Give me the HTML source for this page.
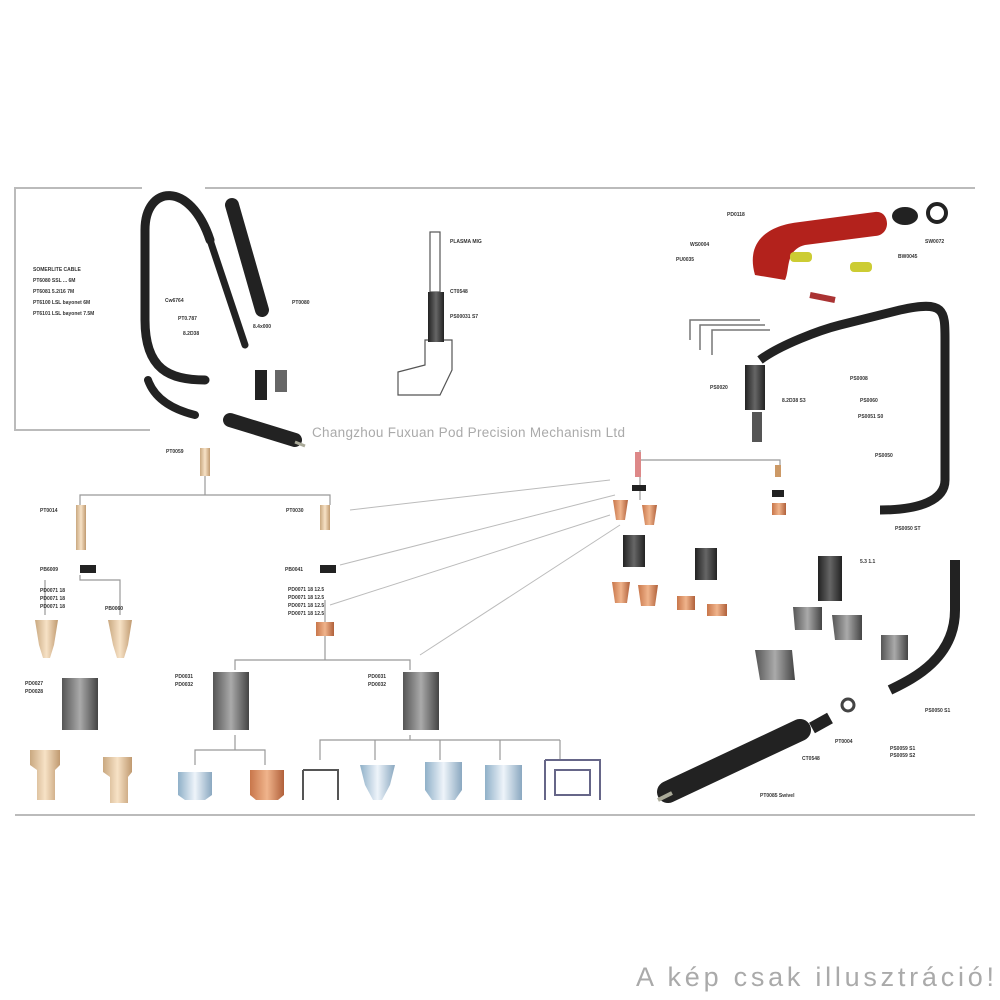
<!DOCTYPE html>
<html><head><meta charset="utf-8"><style>
body{margin:0;background:#fff;width:1000px;height:1000px;overflow:hidden;font-family:"Liberation Sans",sans-serif}
svg{position:absolute;left:0;top:0}
.t{font-size:5px;fill:#333;font-weight:bold}
</style></head><body>
<svg width="1000" height="1000" viewBox="0 0 1000 1000">
<defs>
<linearGradient id="cu" x1="0" x2="1"><stop offset="0" stop-color="#c8764a"/><stop offset=".5" stop-color="#f0b48c"/><stop offset="1" stop-color="#b0603a"/></linearGradient>
<linearGradient id="bk" x1="0" x2="1"><stop offset="0" stop-color="#222"/><stop offset=".5" stop-color="#666"/><stop offset="1" stop-color="#222"/></linearGradient>
<linearGradient id="gr" x1="0" x2="1"><stop offset="0" stop-color="#555"/><stop offset=".5" stop-color="#aaa"/><stop offset="1" stop-color="#444"/></linearGradient>
<linearGradient id="cr" x1="0" x2="1"><stop offset="0" stop-color="#c9a880"/><stop offset=".5" stop-color="#f7e2c6"/><stop offset="1" stop-color="#c09a70"/></linearGradient>
<linearGradient id="bl" x1="0" x2="1"><stop offset="0" stop-color="#8fb0c8"/><stop offset=".5" stop-color="#eef4fa"/><stop offset="1" stop-color="#8aa8c0"/></linearGradient>
</defs>
<g stroke="#bbb" stroke-width="2" fill="none">
<path d="M142 188 H15 V430 H150"/>
<path d="M205 188 H975"/>
<path d="M15 815 H975"/>
</g>
<g stroke="#999" stroke-width="1.2" fill="none">
<path d="M205 470 V495 M80 505 V495 H330 V505"/>
<path d="M80 575 V580 H120 V615 M45 580 V615"/>
<path d="M325 600 V660 H235 V670 M325 660 H410 V670"/>
<path d="M235 735 V750 H195 V765 M235 750 H265 V765"/>
<path d="M410 735 V740 H320 V760 M375 740 V760 M440 740 V760 M500 740 V760 M560 740 V760 M410 740 H560"/>
<path d="M640 450 V460 H780 V470 M640 460 V500"/>
</g>
<g stroke="#bbb" stroke-width="1" fill="none">
<path d="M350 510 L610 480"/><path d="M340 565 L615 495"/><path d="M330 605 L610 515"/>
<path d="M420 655 L620 525"/>
</g>
<g fill="none" stroke="#222" stroke-linecap="round">
<path d="M205 380 C170 380 145 370 145 320 V230 C145 185 190 180 210 240" stroke-width="9"/>
<path d="M148 380 C155 400 175 410 195 415" stroke-width="8"/>
<path d="M210 240 L245 345" stroke-width="7"/>
<path d="M232 205 L262 310" stroke-width="14"/>
</g>
<rect x="255" y="370" width="12" height="30" fill="#222"/>
<rect x="275" y="370" width="12" height="22" fill="#666"/>
<path d="M230 420 L295 440" stroke="#222" stroke-width="14" stroke-linecap="round"/>
<path d="M295 442 L305 446" stroke="#aa9" stroke-width="3"/>
<rect x="200" y="448" width="10" height="28" fill="url(#cr)"/>
<text x="33" y="271" class="t">SOMERLITE CABLE</text>
<text x="33" y="282" class="t">PT6080     SSL ... 6M</text>
<text x="33" y="293" class="t">PT6081     5.2/16  7M</text>
<text x="33" y="304" class="t">PT6100  LSL bayonet  6M</text>
<text x="33" y="315" class="t">PT6101  LSL bayonet  7.5M</text>
<text x="165" y="302" class="t">Cw6764</text><text x="178" y="320" class="t">PT0.787</text><text x="183" y="335" class="t">8.2D38</text>
<text x="292" y="304" class="t">PT0080</text><text x="253" y="328" class="t">8.4x000</text>
<text x="166" y="453" class="t">PT0059</text>
<g fill="none" stroke="#555" stroke-width="1.2">
<rect x="430" y="232" width="10" height="60"/>
<path d="M398 395 V372 L425 365 V340 H452 V370 L440 395 Z"/>
</g>
<rect x="428" y="292" width="16" height="50" fill="url(#bk)"/>
<text x="450" y="243" class="t">PLASMA MIG</text><text x="450" y="293" class="t">CT0548</text><text x="450" y="318" class="t">PS00031 S7</text>
<text x="312" y="437" font-size="13.5" fill="#aaa" textLength="313">Changzhou Fuxuan Pod Precision Mechanism Ltd</text>
<rect x="76" y="505" width="10" height="45" fill="url(#cr)"/>
<rect x="80" y="565" width="16" height="8" fill="#222"/>
<text x="40" y="512" class="t">PT0014</text><text x="40" y="571" class="t">PB6009</text>
<text x="40" y="592" class="t">PD0071 18</text><text x="40" y="600" class="t">PD0071 18</text><text x="40" y="608" class="t">PD0071 18</text>
<text x="105" y="610" class="t">PB0060</text>
<path d="M35 620 H58 L54 645 L50 658 H43 L39 645 Z" fill="url(#cr)"/>
<path d="M108 620 H132 L128 645 L124 658 H117 L113 645 Z" fill="url(#cr)"/>
<rect x="62" y="678" width="36" height="52" fill="url(#gr)"/>
<text x="25" y="685" class="t">PD0027</text><text x="25" y="693" class="t">PD0028</text>
<path d="M30 750 H60 V765 L55 770 V800 H37 V770 L30 765 Z" fill="url(#cr)"/>
<path d="M103 757 H132 V772 L128 777 V803 H110 V777 L103 772 Z" fill="url(#cr)"/>
<rect x="320" y="505" width="10" height="25" fill="url(#cr)"/>
<rect x="320" y="565" width="16" height="8" fill="#222"/>
<text x="286" y="512" class="t">PT0030</text><text x="285" y="571" class="t">PB0041</text>
<text x="288" y="591" class="t">PD0071 18  12.5</text><text x="288" y="599" class="t">PD0071 18  12.5</text><text x="288" y="607" class="t">PD0071 18  12.5</text><text x="288" y="615" class="t">PD0071 18  12.5</text>
<rect x="316" y="622" width="18" height="14" fill="url(#cu)"/>
<rect x="213" y="672" width="36" height="58" fill="url(#gr)"/>
<rect x="403" y="672" width="36" height="58" fill="url(#gr)"/>
<text x="175" y="678" class="t">PD0031</text><text x="175" y="686" class="t">PD0032</text>
<text x="368" y="678" class="t">PD0031</text><text x="368" y="686" class="t">PD0032</text>
<path d="M178 772 H212 V795 L205 800 H185 L178 795 Z" fill="url(#bl)"/>
<path d="M250 770 H284 V795 L278 800 H256 L250 795 Z" fill="url(#cu)"/>
<path d="M303 770 H338 V800 M303 770 V800" fill="none" stroke="#555" stroke-width="2"/>
<path d="M360 765 H395 L390 785 L382 800 H373 L365 785 Z" fill="url(#bl)"/>
<path d="M425 762 H462 V790 L455 800 H432 L425 790 Z" fill="url(#bl)"/>
<path d="M485 765 H522 V800 H485 Z" fill="url(#bl)"/>
<path d="M545 760 H600 V800 M545 760 V800 M555 770 H590 V795 H555 Z" fill="none" stroke="#668" stroke-width="2"/>
<path d="M755 275 C745 240 770 225 800 222 L875 212 C890 210 892 235 875 236 L805 245 C785 250 790 270 785 280 Z" fill="#b3221c"/>
<ellipse cx="905" cy="216" rx="13" ry="9" fill="#222"/>
<circle cx="937" cy="213" r="9" fill="none" stroke="#222" stroke-width="4"/>
<rect x="790" y="252" width="22" height="10" fill="#cc3" rx="4"/>
<rect x="850" y="262" width="22" height="10" fill="#cc3" rx="4"/>
<path d="M810 295 L835 300" stroke="#a33" stroke-width="6"/>
<text x="727" y="216" class="t">PD0118</text><text x="690" y="246" class="t">WS0004</text><text x="676" y="261" class="t">PU0035</text>
<text x="925" y="243" class="t">SW0072</text><text x="898" y="258" class="t">BW0045</text>
<g fill="none" stroke="#777" stroke-width="1.5">
<path d="M690 340 V320 H760 M700 350 V325 H765 M712 355 V330 H770"/>
</g>
<path d="M760 360 C780 345 820 330 840 325 L900 310 C945 300 945 310 945 340 V480 C945 500 920 510 880 510" fill="none" stroke="#222" stroke-width="9"/>
<rect x="745" y="365" width="20" height="45" fill="url(#bk)"/>
<text x="710" y="389" class="t">PS0020</text><text x="782" y="402" class="t">8.2D38 S3</text>
<text x="860" y="402" class="t">PS0060</text><text x="850" y="380" class="t">PS0008</text>
<text x="858" y="418" class="t">PS0051 S0</text><text x="875" y="457" class="t">PS0050</text>
<text x="895" y="530" class="t">PS0050 ST</text><text x="860" y="563" class="t">5.3 1.1</text>
<rect x="752" y="412" width="10" height="30" fill="#555"/>
<rect x="635" y="452" width="6" height="25" fill="#d88"/>
<rect x="632" y="485" width="14" height="6" fill="#222"/>
<rect x="775" y="465" width="6" height="12" fill="#c96"/>
<rect x="772" y="490" width="12" height="7" fill="#222"/>
<rect x="772" y="503" width="14" height="12" fill="url(#cu)"/>
<path d="M613 500 H628 L625 520 H616 Z" fill="url(#cu)"/>
<path d="M642 505 H657 L654 525 H645 Z" fill="url(#cu)"/>
<rect x="623" y="535" width="22" height="32" fill="url(#bk)"/>
<rect x="695" y="548" width="22" height="32" fill="url(#bk)"/>
<rect x="818" y="556" width="24" height="45" fill="url(#bk)"/>
<path d="M612 582 H630 L627 603 H615 Z" fill="url(#cu)"/>
<path d="M638 585 H658 L655 606 H641 Z" fill="url(#cu)"/>
<rect x="677" y="596" width="18" height="14" fill="url(#cu)"/>
<rect x="707" y="604" width="20" height="12" fill="url(#cu)"/>
<path d="M793 607 H822 V630 H795 Z" fill="url(#gr)"/>
<path d="M832 615 H862 V640 H835 Z" fill="url(#gr)"/>
<path d="M881 635 H908 V660 H881 Z" fill="url(#gr)"/>
<path d="M755 650 H792 L795 680 H760 Z" fill="url(#gr)"/>
<path d="M955 560 V610 C955 660 910 680 890 690" fill="none" stroke="#222" stroke-width="10"/>
<path d="M668 792 L800 730" stroke="#222" stroke-width="22" stroke-linecap="round"/>
<path d="M658 800 L672 793" stroke="#aa9" stroke-width="4"/>
<path d="M812 728 L830 718" stroke="#222" stroke-width="12"/>
<circle cx="848" cy="705" r="6" fill="none" stroke="#444" stroke-width="3"/>
<text x="835" y="743" class="t">PT0004</text><text x="802" y="760" class="t">CT0548</text>
<text x="760" y="797" class="t">PT0085 Swivel</text><text x="925" y="712" class="t">PS0050 S1</text>
<text x="890" y="750" class="t">PS0059 S1</text><text x="890" y="757" class="t">PS0059 S2</text>
<text x="636" y="986" font-size="27" fill="#aaa" textLength="358">A kép csak illusztráció!</text>
</svg>
</body></html>
